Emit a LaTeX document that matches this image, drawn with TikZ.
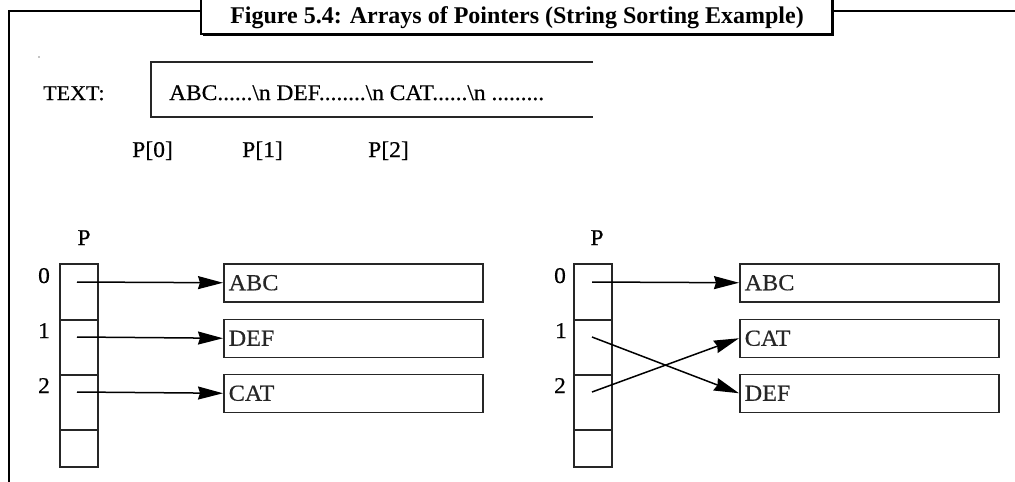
\documentclass[tikz,border=0pt]{standalone}
\usepackage{fontspec}
\setmainfont{Liberation Serif}
\newfontfamily\lfont[FakeStretch=1.05,FakeBold=0.5]{Liberation Serif}
\newfontfamily\tfont[FakeStretch=1.0]{Liberation Serif}
\usetikzlibrary{arrows.meta}
\begin{document}
\begin{tikzpicture}[x=1pt,y=-1pt,
  lbl/.style={font=\lfont\fontsize{22.5}{26}\selectfont, inner sep=0pt},
  frame/.style={line width=2pt, black},
  boxline/.style={line width=1.5pt, black!85},
  cell/.style={draw, boxline, minimum width=38pt, inner sep=0pt, anchor=north west},
  strbox/.style={draw, boxline, anchor=north west, minimum width=259pt, minimum height=38pt,
     inner xsep=5pt, inner ysep=0pt, text width=249pt, align=left,
     font=\lfont\fontsize{23}{26}\selectfont},
  ptr/.style={line width=1.5pt, -{Stealth[length=25pt,width=13pt,inset=2pt]}}
]
\useasboundingbox (0,0) rectangle (1015,482);
% outer frame
\draw[frame] (9,490) -- (9,11) -- (201,11);
\draw[frame] (832,11) -- (1015,11);
% title box with shadow
\fill[black] (203,-10) rectangle (834,36);
\draw[line width=1.6pt, fill=white] (201,-10) rectangle (832,34);
\node (title) [inner sep=0pt, anchor=base, font=\tfont\bfseries\fontsize{24}{28}\selectfont]
  at (517,23) {Figure 5.4: Arrays of Pointers (String Sorting Example)};
% tiny dot
\fill (39,57) circle (0.7);
% TEXT line
\node (textlbl) [lbl, anchor=base west, font=\lfont\fontsize{21}{24}\selectfont] at (43,100) {TEXT:};
\draw[boxline] (593,62) -- (151,62) -- (151,117) -- (593,117);
\node (textstr) [lbl, anchor=base west, font=\lfont\fontsize{22.3}{26}\selectfont] at (169,100) {ABC......\textbackslash n DEF........\textbackslash n CAT......\textbackslash n .........};
\node (p0) [lbl, anchor=base west] at (132,157) {P[0]};
\node (p1) [lbl, anchor=base west] at (242,157) {P[1]};
\node (p2) [lbl, anchor=base west] at (368,157) {P[2]};

% ---------- left array ----------
\node (lP) [lbl, anchor=base] at (84,245) {P};
\node (la0) [cell, minimum height=56pt] at (59,263) {};
\node (la1) [cell, minimum height=55pt] at (59,319) {};
\node (la2) [cell, minimum height=55pt] at (59,374) {};
\node (la3) [cell, minimum height=37pt] at (59,429) {};
\node (li0) [lbl, anchor=base] at (44,283) {0};
\node (li1) [lbl, anchor=base] at (44,338) {1};
\node (li2) [lbl, anchor=base] at (44,393) {2};
\coordinate (ls0) at (77,282);
\coordinate (ls1) at (77,337);
\coordinate (ls2) at (77,392);
\node (lb0) [strbox] at (223,263) {ABC};
\node (lb1) [strbox] at (223,318.5) {DEF};
\node (lb2) [strbox] at (223,373.5) {CAT};
\draw[ptr] (ls0) -- (lb0.west);
\draw[ptr] (ls1) -- (lb1.west);
\draw[ptr] (ls2) -- (lb2.west);

% ---------- right array ----------
\node (rP) [lbl, anchor=base] at (597,245) {P};
\node (ra0) [cell, minimum height=56pt] at (573,263) {};
\node (ra1) [cell, minimum height=55pt] at (573,319) {};
\node (ra2) [cell, minimum height=55pt] at (573,374) {};
\node (ra3) [cell, minimum height=37pt] at (573,429) {};
\node (ri0) [lbl, anchor=base] at (560,283) {0};
\node (ri1) [lbl, anchor=base] at (561,338) {1};
\node (ri2) [lbl, anchor=base] at (560,393) {2};
\coordinate (rs0) at (592,282);
\coordinate (rs1) at (592,337);
\coordinate (rs2) at (592,392);
\node (rb0) [strbox] at (739,263) {ABC};
\node (rb1) [strbox] at (739,318.5) {CAT};
\node (rb2) [strbox] at (739,373.5) {DEF};
\draw[ptr] (rs0) -- (rb0.west);
\draw[ptr] (rs1) -- (rb2.west);
\draw[ptr] (rs2) -- (rb1.west);
\end{tikzpicture}
\end{document}
